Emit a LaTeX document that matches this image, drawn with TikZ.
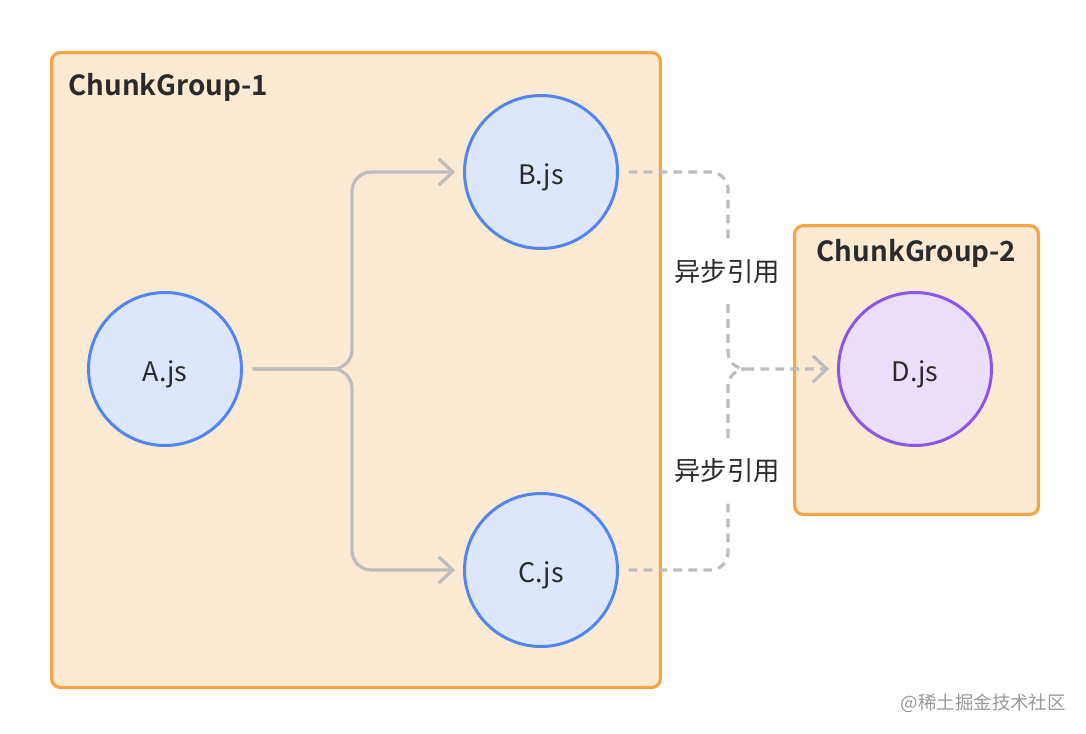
\documentclass[tikz,border=0pt]{standalone}
\usepackage{fontspec}
\setmainfont{Noto Sans CJK SC}[BoldFont={Noto Sans CJK SC Bold}]
\usetikzlibrary{positioning,arrows.meta}

\definecolor{groupline}{HTML}{F6A444}
\definecolor{groupfill}{HTML}{FDEAD3}
\definecolor{jsline}{HTML}{4F86F2}
\definecolor{jsfill}{HTML}{DDE6FB}
\definecolor{lazyline}{HTML}{8C55E8}
\definecolor{lazyfill}{HTML}{EBDEFA}
\definecolor{linkgray}{HTML}{BDBDBD}
\definecolor{textdark}{HTML}{2B2B2B}

\begin{document}
\begin{tikzpicture}[x=0.02cm, y=-0.02cm,
    group/.style={draw=groupline, fill=groupfill, line width=1.8pt, rounded corners=5pt,
        anchor=north west, inner sep=0pt},
    title/.style={font=\bfseries\fontsize{15.8}{19}\selectfont, text=textdark, inner sep=0pt},
    module/.style={circle, draw=jsline, fill=jsfill, line width=1.7pt, minimum size=3.06cm,
        font=\fontsize{15.3}{18}\selectfont, text=textdark, text height=14pt, text depth=0pt},
    link/.style={draw=linkgray, line width=1.8pt, rounded corners=11pt, shorten <=5.5pt, shorten >=4.5pt,
        -{Straight Barb[length=8pt, width=15pt]}},
    async/.style={link, dash pattern=on 5pt off 3.5pt, rounded corners=10pt},
    asynclabel/.style={fill=white, inner xsep=1pt, inner ysep=10pt, text=textdark,
        font=\fontsize{15}{18}\selectfont}
]
    % Canvas
    \useasboundingbox (0,0) rectangle (1086,734);

    % Chunk groups
    \node[group, minimum width=12.18cm, minimum height=12.7cm] (g1) at (50,51) {};
    \node[group, minimum width=4.88cm, minimum height=5.78cm] (g2) at (793,224) {};
    \node[title, below right=0.44cm and 0.36cm of g1.north west] (t1) {ChunkGroup-1};
    \node[title, below=0.3cm of g2.north] (t2) {ChunkGroup-2};

    % Modules
    \node[module] (a) at (165,369) {A.js};
    \node[module] (b) at (541,172) {B.js};
    \node[module] (c) at (541,570) {C.js};
    \node[module, draw=lazyline, fill=lazyfill] (d) at (915,369) {D.js};

    % Sync imports
    \coordinate (split) at (352,369);
    \draw[link] (a) -- (split) |- (b);
    \draw[link] (a) -- (split) |- (c);

    % Async imports
    \coordinate (merge) at (728,369);
    \draw[async] (b) -| (merge) -- (d);
    \draw[async, -] (c) -| (merge) -- ++(20,0);
    \node[asynclabel] (l1) at (727,272) {异步引用};
    \node[asynclabel] (l2) at (727,471) {异步引用};

    % Watermark
    \node[anchor=east, text=black!40, font=\fontsize{10.5}{12}\selectfont] (mark) at (1072,703) {@稀土掘金技术社区};
\end{tikzpicture}
\end{document}
